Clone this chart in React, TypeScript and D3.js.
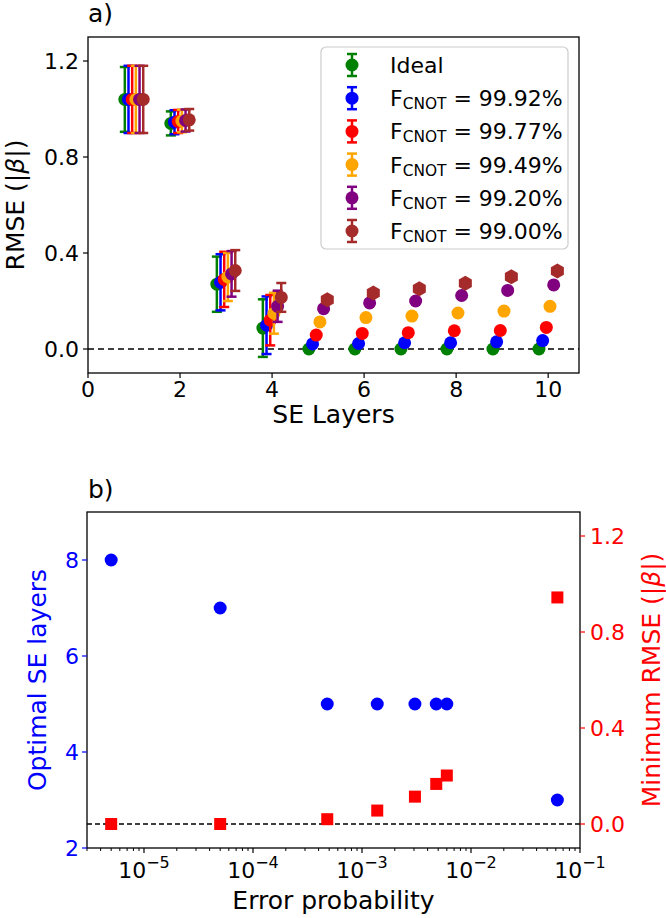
import * as d3 from "d3";

// SE layer sweep: RMSE of |beta| per CNOT fidelity
const layers = [1, 2, 3, 4, 5, 6, 7, 8, 9, 10];
const seriesNames = ["Ideal", "99.92%", "99.77%", "99.49%", "99.20%", "99.00%"];
const seriesColors = ["green", "blue", "red", "orange", "purple", "brown"];

const rmseIdeal = [1.04, 0.94, 0.27, 0.087, 0, 0, 0, 0, 0, 0];
const rmse9992 = [1.04, 0.945, 0.278, 0.099, 0.021, 0.023, 0.026, 0.026, 0.03, 0.035];
const rmse9977 = [1.04, 0.948, 0.29, 0.12, 0.058, 0.065, 0.068, 0.076, 0.077, 0.09];
const rmse9949 = [1.04, 0.95, 0.3, 0.149, 0.113, 0.131, 0.137, 0.15, 0.158, 0.178];
const rmse9920 = [1.04, 0.952, 0.313, 0.178, 0.168, 0.192, 0.2, 0.223, 0.244, 0.267];
const rmse9900 = [1.04, 0.955, 0.327, 0.215, 0.205, 0.233, 0.251, 0.274, 0.301, 0.325];

const errIdeal = [0.135, 0.05, 0.115, 0.12, 0, 0, 0, 0, 0, 0];
const err9992 = [0.14, 0.05, 0.117, 0.12, 0, 0, 0, 0, 0, 0];
const err9977 = [0.14, 0.048, 0.115, 0.105, 0, 0, 0, 0, 0, 0];
const err9949 = [0.14, 0.047, 0.1, 0.085, 0, 0, 0, 0, 0, 0];
const err9920 = [0.14, 0.046, 0.095, 0.065, 0, 0, 0, 0, 0, 0];
const err9900 = [0.14, 0.045, 0.085, 0.06, 0, 0, 0, 0, 0, 0];

const layerOffsets = [-0.2, -0.12, -0.04, 0.04, 0.12, 0.2];
const hexFromLayer = 5;

// optimum per error probability
const errorProb = [5e-6, 5e-5, 4.8e-4, 1.38e-3, 3.06e-3, 4.8e-3, 6.0e-3, 6.2e-2];
const optimalLayers = [8, 7, 5, 5, 5, 5, 5, 3];
const minRmse = [0, 0, 0.02, 0.056, 0.114, 0.167, 0.202, 0.944];

const xTopTicks = [0, 2, 4, 6, 8, 10];
const yRmseTicks = [0, 0.4, 0.8, 1.2];
const yLayerTicks = [2, 4, 6, 8];

const FONT = "DejaVu Sans";
const TICK = 22;
const LABEL = 25;

const rmseSeries = [rmseIdeal, rmse9992, rmse9977, rmse9949, rmse9920, rmse9900];
const errSeries = [errIdeal, err9992, err9977, err9949, err9920, err9900];

function hexPath(cx: number, cy: number, r: number) {
  const pts = d3.range(6).map((k) => {
    const a = ((-90 + k * 60) * Math.PI) / 180;
    return [cx + r * Math.cos(a), cy + r * Math.sin(a)];
  });
  return "M" + pts.map((p) => p.join(",")).join("L") + "Z";
}

function ErrorMark({ x, y, y0, y1, color, hex }: any) {
  const cap = 5;
  return (
    <g>
      {y0 !== y1 && (
        <g stroke={color} strokeWidth={2.5}>
          <line x1={x} x2={x} y1={y0} y2={y1} />
          <line x1={x - cap} x2={x + cap} y1={y0} y2={y0} />
          <line x1={x - cap} x2={x + cap} y1={y1} y2={y1} />
        </g>
      )}
      {hex ? (
        <path d={hexPath(x, y, 7.5)} fill={color} />
      ) : (
        <circle cx={x} cy={y} r={6.5} fill={color} />
      )}
    </g>
  );
}

function TopPanel() {
  const x = d3.scaleLinear().domain([0, 10.67]).range([88, 579]);
  const y = d3.scaleLinear().domain([-0.1, 1.3]).range([373, 37]);
  const [x0, x1] = x.range();
  const [yb, yt] = y.range();
  const legendRows = seriesNames.map((n, i) => ({ n, i, cy: 65 + i * 33.2 }));

  return (
    <g fontFamily={FONT}>
      <text x={88} y={22} fontSize={LABEL}>a)</text>
      <line x1={x0} x2={x1} y1={y(0)} y2={y(0)} stroke="black" strokeWidth={1.6} strokeDasharray="6,4" />
      {rmseSeries.map((vals, si) => (
        <g key={si}>
          {layers.map((l, li) => (
            <ErrorMark
              key={li}
              x={x(l + layerOffsets[si])}
              y={y(vals[li])}
              y0={y(vals[li] + errSeries[si][li])}
              y1={y(vals[li] - errSeries[si][li])}
              color={seriesColors[si]}
              hex={si === 5 && l >= hexFromLayer}
            />
          ))}
        </g>
      ))}
      <rect x={x0} y={yt} width={x1 - x0} height={yb - yt} fill="none" stroke="black" strokeWidth={1.3} />
      {xTopTicks.map((t) => (
        <g key={t}>
          <line x1={x(t)} x2={x(t)} y1={yb} y2={yb + 5} stroke="black" strokeWidth={1.2} />
          <text x={x(t)} y={yb + 24} fontSize={TICK} textAnchor="middle">{t}</text>
        </g>
      ))}
      {yRmseTicks.map((t) => (
        <g key={t}>
          <line x1={x0 - 5} x2={x0} y1={y(t)} y2={y(t)} stroke="black" strokeWidth={1.2} />
          <text x={x0 - 9} y={y(t) + 8} fontSize={TICK} textAnchor="end">{d3.format(".1f")(t)}</text>
        </g>
      ))}
      <text x={(x0 + x1) / 2} y={yb + 50} fontSize={LABEL} textAnchor="middle">SE Layers</text>
      <text transform={`translate(24,${(yb + yt) / 2}) rotate(-90)`} fontSize={LABEL} textAnchor="middle">
        RMSE (|<tspan fontStyle="italic">β</tspan>|)
      </text>

      <rect x={321} y={47} width={247} height={202} rx={5} fill="white" fillOpacity={0.8} stroke="#cccccc" strokeWidth={1.2} />
      {legendRows.map(({ n, i, cy }) => (
        <g key={n}>
          <ErrorMark x={352} y={cy} y0={cy - 11} y1={cy + 11} color={seriesColors[i]} hex={false} />
          {i === 0 ? (
            <text x={390} y={cy + 8} fontSize={TICK}>{n}</text>
          ) : (
            <text x={390} y={cy + 8} fontSize={TICK}>
              F<tspan fontSize={15.4} dy={3}>CNOT</tspan>
              <tspan dy={-3}> = {n}</tspan>
            </text>
          )}
        </g>
      ))}
    </g>
  );
}

function BottomPanel() {
  const x = d3.scaleLog().domain([3.0e-6, 0.1]).range([87, 580]);
  const yL = d3.scaleLinear().domain([2, 9]).range([848, 512]);
  const yR = d3.scaleLinear().domain([-0.1, 1.3]).range([848, 512]);
  const [x0, x1] = x.range();
  const [yb, yt] = yL.range();
  const allTicks = x.ticks();
  const major = allTicks.filter((t) => Math.abs(Math.log10(t) - Math.round(Math.log10(t))) < 1e-9);
  const minor = allTicks.filter((t) => !major.includes(t));

  return (
    <g fontFamily={FONT}>
      <text x={88} y={498} fontSize={LABEL}>b)</text>
      {errorProb.map((p, i) => (
        <circle key={i} cx={x(p)} cy={yL(optimalLayers[i])} r={6.5} fill="blue" />
      ))}
      <line x1={x0} x2={x1} y1={yR(0)} y2={yR(0)} stroke="black" strokeWidth={1.5} strokeDasharray="5,3" />
      {errorProb.map((p, i) => (
        <rect key={i} x={x(p) - 6} y={yR(minRmse[i]) - 6} width={12} height={12} fill="red" />
      ))}
      <rect x={x0} y={yt} width={x1 - x0} height={yb - yt} fill="none" stroke="black" strokeWidth={1.3} />
      {minor.map((t) => (
        <line key={t} x1={x(t)} x2={x(t)} y1={yb} y2={yb + 3} stroke="black" strokeWidth={1} />
      ))}
      {major.map((t) => (
        <g key={t}>
          <line x1={x(t)} x2={x(t)} y1={yb} y2={yb + 5} stroke="black" strokeWidth={1.2} />
          <text x={x(t)} y={yb + 30} fontSize={TICK} textAnchor="middle">
            10<tspan fontSize={16} dy={-10}>{"\u2212" + Math.round(-Math.log10(t))}</tspan>
          </text>
        </g>
      ))}
      {yLayerTicks.map((t) => (
        <g key={t}>
          <line x1={x0 - 5} x2={x0} y1={yL(t)} y2={yL(t)} stroke="blue" strokeWidth={1.2} />
          <text x={x0 - 8} y={yL(t) + 8} fontSize={TICK} textAnchor="end" fill="blue">{t}</text>
        </g>
      ))}
      {yRmseTicks.map((t) => (
        <g key={t}>
          <line x1={x1} x2={x1 + 5} y1={yR(t)} y2={yR(t)} stroke="red" strokeWidth={1.2} />
          <text x={x1 + 10} y={yR(t) + 8} fontSize={TICK} fill="red">{d3.format(".1f")(t)}</text>
        </g>
      ))}
      <text x={(x0 + x1) / 2} y={909} fontSize={LABEL} textAnchor="middle">Error probability</text>
      <text transform={`translate(46,${(yb + yt) / 2}) rotate(-90)`} fontSize={LABEL} textAnchor="middle" fill="blue">
        Optimal SE layers
      </text>
      <text transform={`translate(660,${(yb + yt) / 2}) rotate(-90)`} fontSize={LABEL} textAnchor="middle" fill="red">
        Minimum RMSE (|<tspan fontStyle="italic">β</tspan>|)
      </text>
    </g>
  );
}

export default function App() {
  return (
    <svg
      width={666}
      height={918}
      style={{ position: "absolute", left: 0, top: 0, background: "white" }}
    >
      <TopPanel />
      <BottomPanel />
    </svg>
  );
}
